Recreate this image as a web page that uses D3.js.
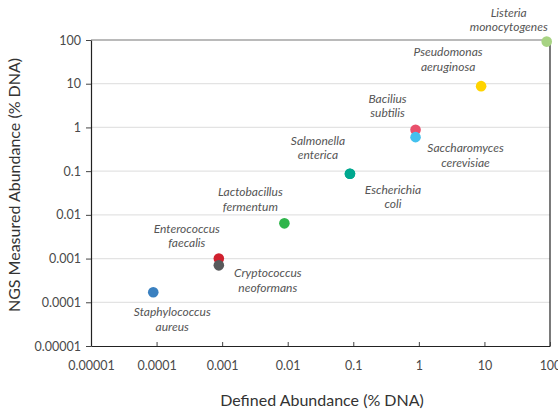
<!DOCTYPE html>
<html><head><meta charset="utf-8">
<script src="https://cdn.jsdelivr.net/npm/d3@7"></script>
<style>
html,body{margin:0;padding:0;background:#fff;}
svg{display:block;font-family:Lato,"Open Sans",sans-serif;}
</style></head>
<body><svg id="c" width="558" height="412"></svg>
<script>
// ---- data ----
const species = ["Escherichia coli","Staphylococcus aureus","Enterococcus faecalis","Cryptococcus neoformans","Lactobacillus fermentum","Salmonella enterica","Bacilius subtilis","Saccharomyces cerevisiae","Pseudomonas aeruginosa","Listeria monocytogenes"];
const labelLine1 = ["Escherichia","Staphylococcus","Enterococcus","Cryptococcus","Lactobacillus","Salmonella","Bacilius","Saccharomyces","Pseudomonas","Listeria"];
const labelLine2 = ["coli","aureus","faecalis","neoformans","fermentum","enterica","subtilis","cerevisiae","aeruginosa","monocytogenes"];
const definedAbundance = [0.089, 0.000089, 0.00089, 0.00089, 0.0089, 0.089, 0.89, 0.89, 8.9, 89.1];
const measuredAbundance = [0.087, 0.00017, 0.00100, 0.00070, 0.0064, 0.087, 0.88, 0.60, 8.8, 92];
const xTicks = [0.00001, 0.0001, 0.001, 0.01, 0.1, 1, 10, 100];
const yTicks = [0.00001, 0.0001, 0.001, 0.01, 0.1, 1, 10, 100];
const tickLabels = ["0.00001","0.0001","0.001","0.01","0.1","1","10","100"];

// ---- styling / placement ----
const colors = ["#00a88f","#3a80c0","#d0202e","#58595b","#2fb54b","#00a88f","#e9506b","#44c1ee","#ffd400","#a7d383"];
const labelOffsets = [[43,16],[19,20],[-32,-30],[49,8],[-34,-31],[-32,-33],[-28,-31],[50,11],[-33,-34],[-38,-29]];

const svg = d3.select("#c");
const m = {l:91, t:40, r:8, b:66};
const W = 558 - m.l - m.r, H = 412 - m.t - m.b;
const g = svg.append("g").attr("transform",`translate(${m.l},${m.t})`);

const x = d3.scaleLog().domain([0.00001,100]).range([0,W]);
const y = d3.scaleLog().domain([0.00001,100]).range([H,0]);
const fmt = d => tickLabels[xTicks.indexOf(d)];

// gridlines
g.append("g").selectAll("line").data(yTicks.slice(1,-1)).join("line")
  .attr("x1",0).attr("x2",W).attr("y1",d=>y(d)).attr("y2",d=>y(d))
  .attr("stroke","#e3e3e3").attr("stroke-width",1.2);
// top line
g.append("line").attr("x1",0).attr("x2",W).attr("y1",y(100)).attr("y2",y(100))
  .attr("stroke","#777").attr("stroke-width",1.2);
// right border
g.append("line").attr("x1",W).attr("x2",W).attr("y1",0).attr("y2",H)
  .attr("stroke","#222").attr("stroke-width",1.2);

// axes
const xa = g.append("g").attr("transform",`translate(0,${H})`)
  .call(d3.axisBottom(x).tickValues(xTicks).tickFormat(fmt).tickSizeInner(-4).tickSizeOuter(0).tickPadding(15));
const ya = g.append("g")
  .call(d3.axisLeft(y).tickValues(yTicks).tickFormat(fmt).tickSizeInner(5).tickSizeOuter(0).tickPadding(5));
[xa,ya].forEach(a=>{
  a.select(".domain").attr("stroke","#222").attr("stroke-width",1.2);
  a.selectAll(".tick line").attr("stroke","#444").attr("stroke-width",1);
  a.selectAll(".tick text").attr("fill","#4a4a4a").attr("font-size",12.5).attr("font-family","Lato,sans-serif");
});

// points
const pts = species.map((s,i)=>({s,i,dx:definedAbundance[i],my:measuredAbundance[i]}));
g.append("g").selectAll("circle").data(pts).join("circle")
  .attr("cx",d=>x(d.dx)).attr("cy",d=>y(d.my)).attr("r",5.3)
  .attr("fill",d=>colors[d.i]);

// labels
const lab = g.append("g").selectAll("text").data(pts).join("text")
  .attr("text-anchor","middle").attr("font-style","italic").attr("font-size",12)
  .attr("fill","#555")
  .attr("x",d=>x(d.dx)+labelOffsets[d.i][0])
  .attr("y",d=>y(d.my)+labelOffsets[d.i][1]+4);
lab.append("tspan").text(d=>labelLine1[d.i]);
lab.append("tspan").attr("x",d=>x(d.dx)+labelOffsets[d.i][0]).attr("dy",14.5).text(d=>labelLine2[d.i]);

// axis titles
svg.append("text").attr("x",322).attr("y",406).attr("text-anchor","middle")
  .attr("font-size",16).attr("fill","#333").text("Defined Abundance (% DNA)");
svg.append("text").attr("transform","translate(20,185) rotate(-90)").attr("text-anchor","middle")
  .attr("font-size",16).attr("fill","#333").text("NGS Measured Abundance (% DNA)");
</script></body></html>
